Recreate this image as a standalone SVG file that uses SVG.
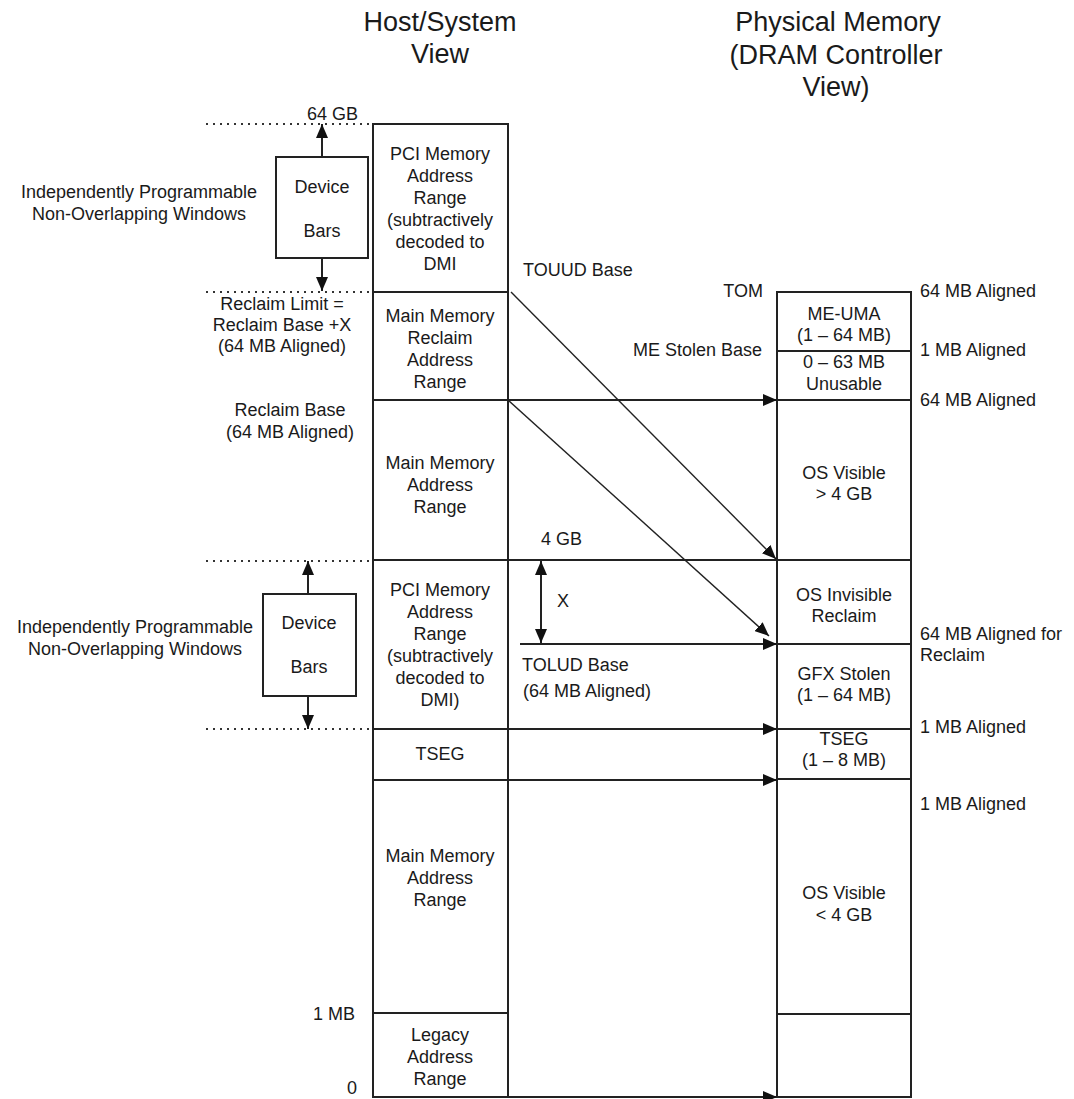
<svg xmlns="http://www.w3.org/2000/svg" width="1074" height="1099" viewBox="0 0 1074 1099">
  <style>
    text { font-family: "Liberation Sans", Arial, sans-serif; font-size: 18px; fill: #1a1a1a; }
    .title { font-size: 27px; }
    .c { text-anchor: middle; }
    .r { text-anchor: end; }
    .box { fill: #fff; stroke: #222; stroke-width: 2; }
    .ln { stroke: #222; stroke-width: 2; fill: none; }
    .thin { stroke: #222; stroke-width: 1.4; fill: none; }
    .dot { stroke: #333; stroke-width: 2; stroke-dasharray: 2 5; fill: none; }
  </style>
  <defs>
    <marker id="ah" markerUnits="userSpaceOnUse" markerWidth="14" markerHeight="12" refX="14" refY="6" orient="auto">
      <path d="M0,0 L14,6 L0,12 z" fill="#111"/>
    </marker>
  </defs>
  <rect width="1074" height="1099" fill="#fff"/>

  <!-- headings -->
  <g id="titles">
    <text class="title c" x="440" y="31">Host/System</text>
    <text class="title c" x="440" y="63">View</text>
    <text class="title c" x="838" y="31">Physical Memory</text>
    <text class="title c" x="836" y="64">(DRAM Controller</text>
    <text class="title c" x="836" y="96">View)</text>
  </g>

  <!-- host/system address map -->
  <g id="host-pci-high">
    <rect class="box" x="373" y="124" width="135" height="168"/>
    <text class="c" x="440" y="160">PCI Memory</text>
    <text class="c" x="440" y="182">Address</text>
    <text class="c" x="440" y="204">Range</text>
    <text class="c" x="440" y="226">(subtractively</text>
    <text class="c" x="440" y="248">decoded to</text>
    <text class="c" x="440" y="270">DMI</text>
  </g>
  <g id="host-reclaim">
    <rect class="box" x="373" y="292" width="135" height="108"/>
    <text class="c" x="440" y="322">Main Memory</text>
    <text class="c" x="440" y="344">Reclaim</text>
    <text class="c" x="440" y="366">Address</text>
    <text class="c" x="440" y="388">Range</text>
  </g>
  <g id="host-main-high">
    <rect class="box" x="373" y="400" width="135" height="160"/>
    <text class="c" x="440" y="469">Main Memory</text>
    <text class="c" x="440" y="491">Address</text>
    <text class="c" x="440" y="513">Range</text>
  </g>
  <g id="host-pci-low">
    <rect class="box" x="373" y="560" width="135" height="169"/>
    <text class="c" x="440" y="596">PCI Memory</text>
    <text class="c" x="440" y="618">Address</text>
    <text class="c" x="440" y="640">Range</text>
    <text class="c" x="440" y="662">(subtractively</text>
    <text class="c" x="440" y="684">decoded to</text>
    <text class="c" x="440" y="706">DMI)</text>
  </g>
  <g id="host-tseg">
    <rect class="box" x="373" y="729" width="135" height="51"/>
    <text class="c" x="440" y="760">TSEG</text>
  </g>
  <g id="host-main-low">
    <rect class="box" x="373" y="780" width="135" height="233"/>
    <text class="c" x="440" y="862">Main Memory</text>
    <text class="c" x="440" y="884">Address</text>
    <text class="c" x="440" y="906">Range</text>
  </g>
  <g id="host-legacy">
    <rect class="box" x="373" y="1013" width="135" height="84"/>
    <text class="c" x="440" y="1041">Legacy</text>
    <text class="c" x="440" y="1063">Address</text>
    <text class="c" x="440" y="1085">Range</text>
  </g>

  <!-- physical memory map -->
  <g id="dram-me-uma">
    <rect class="box" x="777" y="292" width="134" height="59"/>
    <text class="c" x="844" y="320">ME-UMA</text>
    <text class="c" x="844" y="341">(1 – 64 MB)</text>
  </g>
  <g id="dram-unusable">
    <rect class="box" x="777" y="351" width="134" height="49"/>
    <text class="c" x="844" y="368">0 – 63 MB</text>
    <text class="c" x="844" y="390">Unusable</text>
  </g>
  <g id="dram-os-high">
    <rect class="box" x="777" y="400" width="134" height="160"/>
    <text class="c" x="844" y="479">OS Visible</text>
    <text class="c" x="844" y="500">&gt; 4 GB</text>
  </g>
  <g id="dram-reclaim">
    <rect class="box" x="777" y="560" width="134" height="84"/>
    <text class="c" x="844" y="601">OS Invisible</text>
    <text class="c" x="844" y="622">Reclaim</text>
  </g>
  <g id="dram-gfx">
    <rect class="box" x="777" y="644" width="134" height="85"/>
    <text class="c" x="844" y="680">GFX Stolen</text>
    <text class="c" x="844" y="701">(1 – 64 MB)</text>
  </g>
  <g id="dram-tseg">
    <rect class="box" x="777" y="729" width="134" height="50"/>
    <text class="c" x="844" y="745">TSEG</text>
    <text class="c" x="844" y="766">(1 – 8 MB)</text>
  </g>
  <g id="dram-os-low">
    <rect class="box" x="777" y="779" width="134" height="235"/>
    <text class="c" x="844" y="899">OS Visible</text>
    <text class="c" x="844" y="921">&lt; 4 GB</text>
  </g>
  <g id="dram-legacy">
    <rect class="box" x="777" y="1014" width="134" height="83"/>
  </g>

  <!-- device BAR windows -->
  <g id="bars-high">
    <rect class="box" x="276" y="157" width="92" height="101"/>
    <text class="c" x="322" y="193">Device</text>
    <text class="c" x="322" y="237">Bars</text>
  </g>
  <g id="bars-low">
    <rect class="box" x="263" y="594" width="93" height="102"/>
    <text class="c" x="309" y="629">Device</text>
    <text class="c" x="309" y="673">Bars</text>
  </g>

  <!-- connectors -->
  <g id="connectors">
    <line class="dot" x1="206" y1="124" x2="372" y2="124"/>
    <line class="dot" x1="206" y1="292" x2="372" y2="292"/>
    <line class="dot" x1="206" y1="561" x2="372" y2="561"/>
    <line class="dot" x1="206" y1="729" x2="372" y2="729"/>

    <line class="ln" x1="322" y1="157" x2="322" y2="124" marker-end="url(#ah)"/>
    <line class="ln" x1="322" y1="258" x2="322" y2="291" marker-end="url(#ah)"/>
    <line class="ln" x1="308" y1="594" x2="308" y2="561" marker-end="url(#ah)"/>
    <line class="ln" x1="308" y1="696" x2="308" y2="729" marker-end="url(#ah)"/>

    <!-- 4 GB boundary across the middle -->
    <line class="ln" x1="508" y1="560" x2="777" y2="560"/>
    <!-- bottom edge -->
    <line class="ln" x1="508" y1="1097" x2="777" y2="1097" marker-end="url(#ah)"/>

    <line class="ln" x1="508" y1="400" x2="777" y2="400" marker-end="url(#ah)"/>
    <line class="ln" x1="520" y1="644" x2="777" y2="644" marker-end="url(#ah)"/>
    <line class="ln" x1="508" y1="729" x2="777" y2="729" marker-end="url(#ah)"/>
    <line class="ln" x1="508" y1="780" x2="777" y2="780" marker-end="url(#ah)"/>

    <line class="thin" x1="511" y1="292" x2="776" y2="559" marker-end="url(#ah)"/>
    <line class="thin" x1="508" y1="400" x2="769" y2="636" marker-end="url(#ah)"/>

    <!-- reclaim size X -->
    <line class="ln" x1="541" y1="575" x2="541" y2="561" marker-end="url(#ah)"/>
    <line class="ln" x1="541" y1="575" x2="541" y2="643" marker-end="url(#ah)"/>
  </g>

  <!-- annotations -->
  <g id="labels">
    <text x="307" y="120">64 GB</text>
    <text class="c" x="139" y="198">Independently Programmable</text>
    <text class="c" x="139" y="220">Non-Overlapping Windows</text>
    <text class="c" x="282" y="310">Reclaim Limit =</text>
    <text class="c" x="282" y="331">Reclaim Base +X</text>
    <text class="c" x="282" y="352">(64 MB Aligned)</text>
    <text class="c" x="290" y="416">Reclaim Base</text>
    <text class="c" x="290" y="438">(64 MB Aligned)</text>
    <text class="c" x="135" y="633">Independently Programmable</text>
    <text class="c" x="135" y="655">Non-Overlapping Windows</text>
    <text class="r" x="355" y="1020">1 MB</text>
    <text class="r" x="357" y="1094">0</text>

    <text x="523" y="276">TOUUD Base</text>
    <text class="r" x="763" y="297">TOM</text>
    <text class="r" x="762" y="356">ME Stolen Base</text>
    <text x="541" y="545">4 GB</text>
    <text x="557" y="607">X</text>
    <text x="522" y="671">TOLUD Base</text>
    <text x="523" y="697">(64 MB Aligned)</text>

    <text x="920" y="297">64 MB Aligned</text>
    <text x="920" y="356">1 MB Aligned</text>
    <text x="920" y="406">64 MB Aligned</text>
    <text x="920" y="640">64 MB Aligned for</text>
    <text x="920" y="661">Reclaim</text>
    <text x="920" y="733">1 MB Aligned</text>
    <text x="920" y="810">1 MB Aligned</text>
  </g>
</svg>
